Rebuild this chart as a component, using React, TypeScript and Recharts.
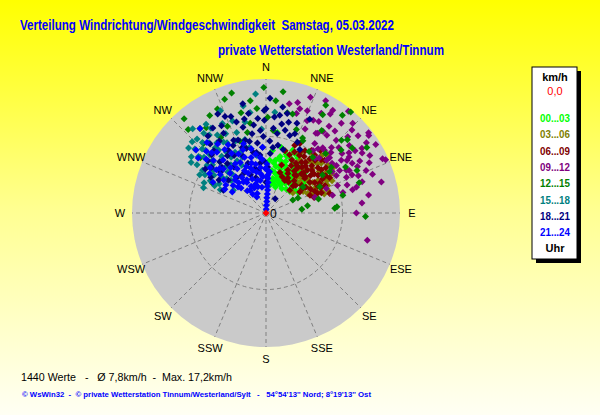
import { ScatterChart, Scatter, XAxis, YAxis, RadarChart, Radar, PolarGrid, PolarAngleAxis, PolarRadiusAxis } from 'recharts';

const W = 600;
const H = 415;
const CX = 266;
const CY = 213;
const R = 134;
const MAX_KMH = 17.5;
const RING_KMH = 10;
const LABEL_R = 146;

const DIRECTIONS = ['N', 'NNE', 'NE', 'ENE', 'E', 'ESE', 'SE', 'SSE', 'S', 'SSW', 'SW', 'WSW', 'W', 'WNW', 'NW', 'NNW'];
const PERIODS = ['00...03', '03...06', '06...09', '09...12', '12...15', '15...18', '18...21', '21...24'];
const COLORS = ['#00FF00', '#808000', '#800000', '#800080', '#008000', '#008080', '#000080', '#0000FF'];

// [Richtung in Grad, Geschwindigkeit km/h]
type Pt = [number, number];

const calm: Pt[] = [[0, 0]];

const h00: Pt[] = [
  [8, 5.6], [10, 7.0], [22, 6.7], [36, 5.3], [52, 4.8], [27, 4.1], [42, 6.6], [17, 8.5], [19, 4.8], [54, 6.2],
  [8, 3.7], [12, 6.2], [15, 5.2], [25, 5.8], [30, 6.2], [33, 4.6], [14, 7.6], [20, 7.9], [28, 7.3], [38, 5.9],
  [45, 5.4], [48, 4.2], [24, 5.0], [18, 6.0], [11, 4.6], [31, 7.0], [40, 4.9], [16, 3.9], [35, 8.0], [26, 8.6],
  [8, 10.6], [6, 8.2], [44, 7.4], [58, 5.0], [21, 4.4], [29, 5.4], [13, 8.8], [4, 6.9],
  [10, 4.0], [14, 4.4], [18, 5.0], [23, 5.5], [27, 6.0], [32, 6.5], [37, 7.0], [42, 7.6], [47, 5.8], [50, 6.6],
  [12, 5.4], [16, 6.4], [21, 7.2], [25, 7.8], [30, 8.3], [34, 5.6], [39, 6.2], [44, 5.0], [9, 6.6], [13, 7.3],
  [19, 8.1], [23, 8.9], [28, 4.6], [33, 3.8], [40, 4.1], [46, 4.6], [55, 5.6], [31, 6.0], [20, 3.6], [36, 6.7],
  [24, 6.4], [17, 7.0],
];

const h03: Pt[] = [
  [53, 4.4], [60, 6.6], [69, 7.8], [70, 8.6], [44, 10.5], [46, 9.3], [46, 8.4], [40, 8.9], [56, 9.5], [59, 10.0],
  [50, 7.0], [42, 7.5], [48, 6.0], [36, 7.2], [55, 5.8], [63, 7.2], [38, 9.8], [52, 8.8], [58, 8.0], [45, 6.5],
  [33, 8.2], [65, 6.0], [47, 11.0], [41, 6.0], [62, 9.0], [30, 9.0],
  [48, 9.7], [52, 10.2], [57, 7.3], [61, 8.2], [66, 8.8], [68, 7.2], [64, 9.6], [54, 6.9], [50, 8.0], [43, 9.0],
  [60, 5.6], [72, 8.0], [39, 8.6], [56, 10.6], [67, 6.5],
];

const h06: Pt[] = [
  [17, 8.5], [23, 9.6], [32, 9.6], [40, 9.9], [48, 10.3], [18, 6.6], [26, 7.7], [35, 8.1], [44, 8.6], [52, 9.2],
  [30, 4.9], [37, 6.2], [48, 6.8], [58, 7.5], [65, 8.5], [46, 4.3], [58, 5.2], [68, 6.2], [69, 7.2], [19, 5.6],
  [27, 6.3], [35, 7.2], [44, 7.8], [54, 8.4], [22, 8.2], [30, 8.7], [39, 9.1], [41, 10.8], [47, 5.3], [57, 6.2],
  [32, 5.4], [58, 9.2], [36, 10.1], [26, 10.1], [73, 8.7], [42, 6.9], [50, 7.6], [61, 8.0], [28, 7.0], [38, 7.6],
  [24, 5.2], [29, 5.9], [34, 6.6], [39, 6.3], [43, 7.2], [47, 7.0], [51, 8.1], [55, 8.9], [59, 8.6], [63, 7.6],
  [66, 7.0], [62, 6.6], [56, 5.8], [52, 5.9], [45, 5.0], [41, 5.6], [36, 5.0], [31, 7.6], [25, 8.8], [29, 9.2],
  [34, 8.9], [38, 8.4], [43, 9.4], [46, 10.0], [53, 9.8], [49, 9.0], [61, 9.5], [65, 7.9], [70, 7.7], [72, 6.6],
  [40, 8.0], [33, 7.4], [55, 7.0], [47, 8.2],
];

const h09: Pt[] = [
  [12, 14.6], [18, 14.3], [17, 13.6], [24, 13.2], [29, 14.9], [33, 15.4], [33, 16.0], [40, 15.3], [44, 16.3], [33, 12.4],
  [38, 12.9], [44, 13.2], [50, 15.7], [52, 17.0], [55, 16.0], [58, 16.9], [55, 14.2], [61, 14.0], [61, 15.5], [66, 17.1],
  [56, 13.1], [55, 12.0], [56, 11.1], [62, 11.9], [66, 12.3], [49, 11.0], [41, 11.3], [25, 12.1], [16, 15.0], [32, 12.3],
  [39, 17.1], [46, 15.6], [53, 16.8], [56, 15.1], [75, 15.6], [72, 13.2], [74, 12.3], [75, 10.4], [75, 9.0], [90, 11.8],
  [66, 11.5], [60, 11.1], [49, 10.5], [43, 11.2], [37, 10.2], [35, 11.1], [105, 13.7], [75, 11.7], [68, 8.5], [72, 6.7],
  [65, 16.8], [28, 16.6], [36, 14.0], [47, 14.6], [52, 12.6], [63, 13.4], [70, 14.8], [80, 13.6], [58, 10.2], [42, 9.6],
  [21, 16.2], [84, 12.6], [69, 10.0],
  [30, 13.8], [35, 13.0], [40, 14.0], [45, 12.1], [48, 12.8], [51, 14.0], [54, 13.4], [57, 12.6], [60, 13.0], [63, 12.2],
  [58, 14.8], [64, 15.0], [68, 13.0], [47, 11.6], [39, 10.8], [44, 10.0], [53, 10.8], [62, 10.4], [67, 14.2], [71, 11.2],
  [22, 14.4], [27, 13.6],
];

const h12: Pt[] = [
  [319, 16.3], [317, 14.9], [330, 14.7], [335, 15.0], [344, 16.3], [359, 16.4], [355, 13.7], [1, 12.5], [350, 11.9], [347, 10.8],
  [329, 11.5], [318, 12.2], [299, 8.0], [346, 13.5], [5, 14.7], [15, 13.4], [30, 14.8], [38, 16.2], [46, 13.7], [53, 14.1],
  [55, 10.4], [56, 8.9], [84, 4.7], [85, 9.3], [92, 13.0], [64, 3.9], [27, 10.6], [12, 13.4], [55, 5.9], [64, 7.8],
  [57, 9.9], [29, 16.1], [40, 17.2], [26, 10.9], [34, 13.0], [50, 12.8], [65, 13.1], [57, 15.7], [48, 14.3], [40, 9.5],
  [86, 9.0], [75, 7.1], [65, 4.6], [77, 10.3], [72, 12.8], [340, 15.8], [352, 14.8], [5, 10.8], [20, 11.6],
  [325, 13.6], [336, 12.4], [310, 11.2], [322, 14.0], [8, 16.0], [340, 10.0], [60, 12.0], [45, 11.0], [35, 9.8], [80, 5.5],
];

const h15: Pt[] = [
  [355, 15.6], [348, 14.3], [351, 13.3], [334, 13.0], [327, 13.2], [322, 13.2], [317, 13.2], [312, 12.5], [312, 10.9], [309, 9.9],
  [304, 10.0], [309, 8.9], [314, 9.8], [323, 10.3], [331, 10.5], [333, 8.9], [337, 8.6], [309, 7.4], [317, 7.3], [300, 8.4],
  [292, 8.8], [297, 6.7], [305, 5.2], [331, 7.8], [346, 8.8], [337, 7.9], [351, 7.6], [322, 10.8], [5, 13.2], [315, 11.8],
  [328, 12.0], [340, 11.2], [302, 9.4], [320, 8.0], [327, 9.5], [313, 6.2], [344, 10.0], [336, 14.6], [298, 7.6], [324, 12.6],
  [310, 11.5], [340, 12.8], [357, 11.0], [318, 9.0],
  [305, 11.0], [307, 12.2], [310, 13.2], [314, 13.4], [318, 12.4], [321, 11.8], [325, 11.2], [329, 10.8], [333, 11.6], [337, 10.2],
  [316, 10.6], [312, 9.4], [306, 8.4], [302, 7.2], [300, 10.0], [296, 9.0], [319, 6.8], [324, 7.8], [328, 8.6], [333, 7.0],
  [342, 9.2], [347, 12.2], [326, 14.0], [319, 14.6], [304, 11.8], [311, 6.8], [316, 11.4], [322, 9.4],
];

const h18: Pt[] = [
  [337, 13.7], [348, 14.6], [350, 13.2], [0, 13.6], [328, 13.1], [323, 12.6], [336, 10.4], [344, 9.9], [350, 10.5], [353, 9.2],
  [357, 8.6], [4, 7.8], [348, 8.1], [340, 9.1], [329, 9.6], [316, 8.3], [303, 8.6], [298, 6.3], [311, 6.5], [340, 6.9],
  [353, 6.5], [2, 6.0], [33, 2.2], [359, 13.4], [359, 12.1], [5, 11.1], [8, 10.5], [13, 11.1], [17, 10.6], [19, 12.4],
  [24, 10.1], [8, 12.9], [12, 13.3], [345, 11.6], [332, 11.8], [320, 10.6], [338, 8.0], [356, 10.8], [3, 9.4], [10, 9.0],
  [325, 7.3], [310, 9.3], [342, 12.5], [2, 15.0], [15, 8.6], [28, 9.4], [346, 6.0], [0, 4.0], [25, 13.5],
  [305, 7.5], [312, 8.0], [318, 9.0], [322, 8.2], [326, 9.0], [331, 8.6], [334, 9.8], [339, 10.2], [343, 8.8], [347, 9.6],
  [351, 8.0], [354, 7.6], [358, 6.8], [358, 10.0], [352, 11.6], [347, 12.6], [340, 13.4], [333, 12.8], [327, 11.2], [321, 11.6],
  [317, 10.4], [312, 10.2], [306, 9.8], [338, 5.4], [332, 6.0], [326, 5.8], [320, 6.0], [344, 4.8], [350, 5.6], [6, 8.6],
  [10, 11.8], [14, 12.2], [20, 11.0], [9, 14.0], [5, 12.6], [355, 12.4], [334, 14.4],
];

const h21: Pt[] = [
  [3, 0.5], [3, 1.0], [4, 1.5], [3, 2.0], [4, 2.5], [4, 3.0], [3, 3.5], [4, 4.0], [3, 4.5], [3, 5.0], [3, 5.5],
  [322, 14.0], [312, 12.3], [316, 11.2], [315, 9.7], [314, 8.4], [327, 6.9], [326, 5.6], [328, 4.7], [325, 3.6], [313, 5.0],
  [302, 5.2], [336, 2.8], [351, 3.4], [333, 7.4], [339, 7.8], [343, 5.8], [345, 4.4], [317, 5.9], [321, 8.9], [2, 4.7],
  [318, 7.0], [321, 10.2], [309, 9.4], [336, 5.7], [354, 7.3], [357, 8.6], [330, 9.0], [340, 4.0], [348, 6.5], [320, 6.2],
  [308, 7.0], [335, 8.5], [342, 9.5], [352, 5.2], [312, 10.5], [325, 11.0], [300, 8.0], [330, 5.0], [345, 7.5],
  [305, 6.4], [310, 5.6], [315, 4.6], [320, 3.8], [325, 3.0], [330, 2.4], [335, 3.6], [338, 4.8], [341, 6.2], [344, 6.8],
  [347, 5.5], [350, 4.3], [353, 6.0], [356, 7.0], [359, 5.8], [1, 6.4], [5, 5.4], [350, 7.8], [347, 8.6], [340, 8.8],
  [333, 6.2], [328, 7.6], [322, 7.5], [316, 8.0], [311, 8.6], [305, 9.0], [324, 5.0], [318, 5.3], [331, 4.0], [337, 6.6],
  [343, 3.6], [355, 4.8], [2, 5.6], [327, 9.9], [318, 10.6], [309, 11.4], [300, 6.2], [310, 7.8], [320, 12.0], [331, 10.2],
];

const GROUPS = [h00, h03, h06, h09, h12, h15, h18, h21];

const toXY = (pts: Pt[]) =>
  pts.map(([dir, v]) => ({
    x: v * Math.sin((dir * Math.PI) / 180),
    y: v * Math.cos((dir * Math.PI) / 180),
  }));

const Diamond = (props: any) => {
  const { cx, cy, fill } = props;
  const s = 3.5;
  return <polygon points={`${cx},${cy - s} ${cx + s},${cy} ${cx},${cy + s} ${cx - s},${cy}`} fill={fill} />;
};

const renderDirTick = (props: any) => {
  const { x, y, payload } = props;
  const a = Math.atan2(y - CY, x - CX);
  return (
    <text
      x={CX + LABEL_R * Math.cos(a)}
      y={CY + LABEL_R * Math.sin(a)}
      textAnchor="middle"
      dominantBaseline="central"
      fontSize={11}
      fontFamily="'Liberation Sans', Arial, sans-serif"
      fill="#000"
    >
      {payload.value}
    </text>
  );
};

const FONT = "'Liberation Sans', Arial, sans-serif";
const NARROW = "'Liberation Sans Narrow', 'Arial Narrow', 'Liberation Sans', sans-serif";
const PRE = { whiteSpace: 'pre' as const };

export default function App() {
  const gridData = DIRECTIONS.map((d) => ({ dir: d, v: 0 }));

  return (
    <div
      style={{
        position: 'absolute',
        left: 0,
        top: 0,
        width: W,
        height: H,
        overflow: 'hidden',
        background: 'linear-gradient(to bottom, #FFFF00 0%, #FFFF90 50%, #FFFFF4 100%)',
      }}
    >
      {/* Scheibe */}
      <div
        style={{
          position: 'absolute',
          left: CX - R,
          top: CY - R,
          width: 2 * R,
          height: 2 * R,
          borderRadius: '50%',
          background: '#CACACA',
        }}
      />

      <div style={{ position: 'absolute', left: 0, top: 0 }}>
        <RadarChart width={W} height={H} data={gridData} cx={CX} cy={CY} outerRadius={R}>
          <PolarGrid
            gridType="circle"
            polarRadius={[(RING_KMH / MAX_KMH) * R]}
            stroke="#808080"
            strokeDasharray="4 3"
          />
          <PolarAngleAxis dataKey="dir" tick={renderDirTick} axisLine={false} tickLine={false} />
          <PolarRadiusAxis domain={[0, MAX_KMH]} tick={false} axisLine={false} />
          <Radar dataKey="v" stroke="none" fill="none" isAnimationActive={false} />
        </RadarChart>
      </div>

      <div style={{ position: 'absolute', left: 0, top: 0 }}>
        <ScatterChart
          width={W}
          height={H}
          margin={{ top: CY - R, left: CX - R, right: W - (CX + R), bottom: H - (CY + R) }}
        >
          <XAxis type="number" dataKey="x" domain={[-MAX_KMH, MAX_KMH]} hide allowDataOverflow />
          <YAxis type="number" dataKey="y" domain={[-MAX_KMH, MAX_KMH]} hide allowDataOverflow />
          {GROUPS.map((g, i) => (
            <Scatter
              key={PERIODS[i]}
              data={toXY(g)}
              fill={COLORS[i]}
              shape={<Diamond />}
              isAnimationActive={false}
            />
          ))}
          <Scatter data={toXY(calm)} fill="#FF0000" shape={<Diamond />} isAnimationActive={false} />
        </ScatterChart>
      </div>

      <svg width={W} height={H} style={{ position: 'absolute', left: 0, top: 0, pointerEvents: 'none' }}>
        <text x={20} y={30} style={PRE} fontSize={14} fontWeight="bold" fontFamily={NARROW} fill="#0000FF" textLength={374} lengthAdjust="spacingAndGlyphs">
          {'Verteilung Windrichtung/Windgeschwindigkeit  Samstag, 05.03.2022'}
        </text>
        <text x={218} y={55} fontSize={14} fontWeight="bold" fontFamily={NARROW} fill="#0000FF" textLength={226} lengthAdjust="spacingAndGlyphs">
          private Wetterstation Westerland/Tinnum
        </text>

        <text x={CX + 4} y={CY + 5} fontSize={12} fontFamily={FONT} fill="#000">0</text>

        {/* Legende */}
        <rect x={536} y={71} width={45} height={192} fill="#000" />
        <rect x={532} y={67} width={45} height={192} fill="#FFF" stroke="#000" strokeWidth={1} />
        <text x={555} y={81} textAnchor="middle" fontSize={11} fontWeight="bold" fontFamily={FONT} fill="#000">km/h</text>
        <text x={555} y={95} textAnchor="middle" fontSize={11} fontFamily={FONT} fill="#FF0000">0,0</text>
        {PERIODS.map((p, i) => (
          <text
            key={p}
            x={555}
            y={122 + i * 16.3}
            textAnchor="middle"
            fontSize={10}
            fontWeight="bold"
            fontFamily={FONT}
            fill={COLORS[i]}
            textLength={30}
            lengthAdjust="spacingAndGlyphs"
          >
            {p}
          </text>
        ))}
        <text x={555} y={252} textAnchor="middle" fontSize={11} fontWeight="bold" fontFamily={FONT} fill="#000">Uhr</text>

        <text x={21} y={381} style={PRE} fontSize={11} fontFamily={FONT} fill="#000" textLength={211} lengthAdjust="spacingAndGlyphs">
          {'1440 Werte   -   Ø 7,8km/h  -  Max. 17,2km/h'}
        </text>
        <text x={22} y={397} style={PRE} fontSize={8} fontWeight="bold" fontFamily={FONT} fill="#0000FF" textLength={349} lengthAdjust="spacingAndGlyphs">
          {"© WsWin32  -  © private Wetterstation Tinnum/Westerland/Sylt   -   54°54'13'' Nord; 8°19'13'' Ost"}
        </text>
      </svg>
    </div>
  );
}
